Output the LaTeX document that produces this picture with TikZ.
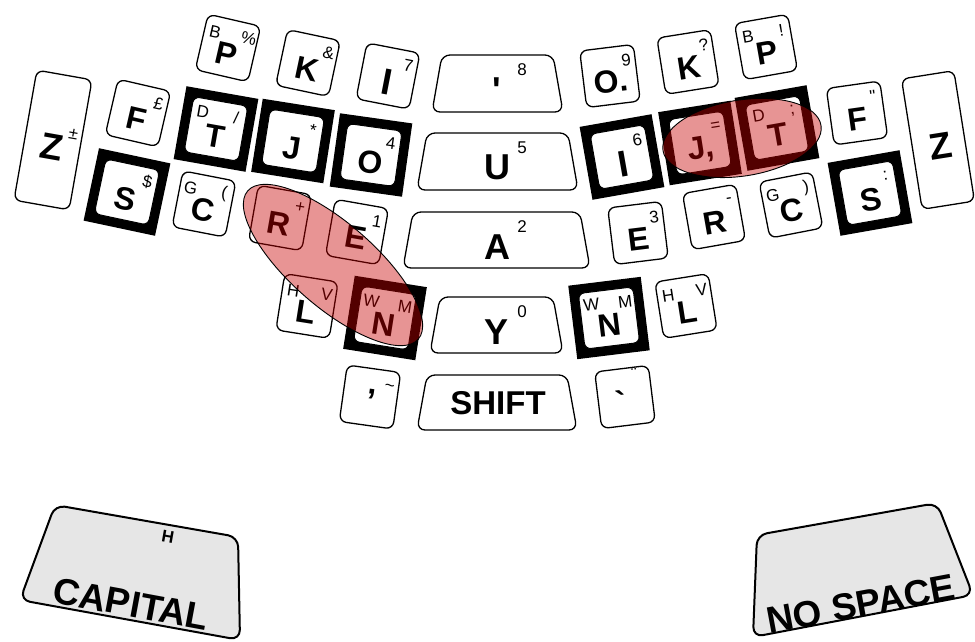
\documentclass[tikz,border=0pt]{standalone}
\usepackage{fontspec}
\setmainfont{Liberation Sans}
\newfontfamily\kf{Liberation Sans}
\usetikzlibrary{shapes.geometric}
\definecolor{hlred}{RGB}{200,0,0}
\definecolor{bigfill}{RGB}{230,230,230}
\newcommand\nkey[8][]{%
  \begin{scope}[shift={(#3,#4)},rotate=#5,transform shape]
    \node[keyn] (#2) at (0,0) {};
    \node[mainl,#1] (#2-a) at (0,6) {#6};
    \node[supl] (#2-b) at (18,-14) {#7};
    \node[supl] (#2-c) at (-16,-13) {#8};
  \end{scope}}
\newcommand\bkey[8][]{%
  \begin{scope}[shift={(#3,#4)},rotate=#5,transform shape]
    \node[keybo] (#2) at (0,0) {};
    \node[keybi] (#2-i) at (0,0) {};
    \node[mainl,#1] (#2-a) at (0,7) {#6};
    \node[supl] (#2-b) at (18,-14) {#7};
    \node[supl] (#2-c) at (-16,-15) {#8};
  \end{scope}}
% middle trapezoid key: name, cx, cy, bottom width, height
\newcommand\midk[5]{%
  \coordinate (#1) at (#2,#3);
  \draw[midkey] ({#2-#4/2},{#3+#5/2}) -- ({#2+#4/2},{#3+#5/2})
     -- ({#2+#4/2-10},{#3-#5/2}) -- ({#2-#4/2+10},{#3-#5/2}) -- cycle;}
\begin{document}
\begin{tikzpicture}[x=1pt,y=-1pt,
  keyn/.style={draw, line width=1.3pt, rounded corners=7pt, fill=white, minimum width=54pt, minimum height=57pt, inner sep=0pt},
  keytall/.style={keyn, minimum width=56pt, minimum height=132pt},
  keybo/.style={fill=black, minimum width=73pt, minimum height=74pt, inner sep=0pt},
  keybi/.style={draw, line width=1pt, fill=white, rounded corners=6pt, minimum width=55pt, minimum height=56pt, inner sep=0pt},
  mainl/.style={font=\kf\bfseries\fontsize{32}{32}\selectfont, inner sep=0pt},
  bigl/.style={font=\kf\bfseries\fontsize{37}{37}\selectfont},
  midl/.style={font=\kf\bfseries\fontsize{36}{36}\selectfont, inner sep=0pt},
  supl/.style={font=\kf\fontsize{17}{17}\selectfont, inner sep=0pt},
  midkey/.style={draw, line width=1.3pt, rounded corners=8pt, fill=white},
  bigkey/.style={draw, line width=2pt, rounded corners=10pt, fill=bigfill},
  bigtxt/.style={font=\kf\bfseries\fontsize{37}{37}\selectfont, inner sep=0pt},
  hl/.style={ellipse, draw=black, line width=0.9pt, fill=hlred, fill opacity=0.42, inner sep=0pt},
]
\useasboundingbox (0,0) rectangle (975,642);

% ---- left half ----
\begin{scope}[shift={(53,140)},rotate=-10,transform shape]
  \node[keytall] (zl) at (0,0) {};
  \node[mainl,bigl] (zl-a) at (0,7) {Z};
  \node[supl] (zl-b) at (19,-9) {±};
\end{scope}
\nkey{pl}{228}{48}{-13}{P}{\%}{B}
\nkey{kl}{308}{63}{-12}{K}{\&}{}
\nkey[bigl]{il}{388}{76}{-11}{I}{7}{}
\nkey{fl}{138}{113}{-13}{F}{£}{}
\bkey{tl}{216}{129}{-10}{T}{/}{D}
\bkey{jl}{293}{141}{-9}{J}{*}{}
\bkey{ol}{371}{155}{-8}{O}{4}{}
\bkey{sl}{127}{192}{-12}{S}{\$}{}
\nkey{cl}{204}{204}{-11}{C}{(}{G}
\nkey{rl}{280}{218}{-10}{R}{+}{}
\nkey{el}{357}{232}{-10}{E}{1}{}
\nkey{ll}{307}{306}{-9}{L}{V}{H}
\bkey{nl}{385}{318}{-9}{N}{M}{W}
\begin{scope}[shift={(370,397)},rotate=-8,transform shape]
  \node[keyn] (cm) at (0,0) {};
  \node[mainl] (cm-a) at (1,-3) {,};
  \node[supl] (cm-b) at (18,-12) {\textasciitilde};
\end{scope}

% ---- right half ----
\nkey{ok}{610}{76}{7}{O.}{9}{}
\nkey{kr}{688}{62}{9}{K}{?}{}
\nkey{pr}{766}{47}{10}{P}{!}{B}
\nkey{fr}{857}{113}{8}{F}{"}{}
\begin{scope}[shift={(938,140)},rotate=9,transform shape]
  \node[keytall, minimum width=53pt] (zr) at (0,0) {};
  \node[mainl,bigl] (zr-a) at (2,7) {Z};
\end{scope}
\bkey[bigl]{ir}{622}{157}{10}{I}{6}{}
\bkey{jr}{700}{143}{9}{J,}{=}{}
\bkey{tr}{777}{128}{10}{T}{;}{D}
\bkey{sr}{870}{193}{10}{S}{:}{}
\nkey{er}{638}{233}{7}{E}{3}{}
\nkey{rr}{714}{217}{10}{R}{-}{}
\nkey{cr}{791}{205}{11}{C}{)}{G}
\bkey{nr}{609}{318}{7}{N}{M}{W}
\nkey{lr}{686}{306}{9}{L}{V}{H}
\begin{scope}[shift={(625,397)},rotate=7,transform shape]
  \node[keyn] (gr) at (0,0) {};
  \node[mainl] (gr-a) at (-4,5) {`};
  \node[supl] (gr-b) at (12,-21) {¨};
\end{scope}

% ---- middle column ----
\midk{kap}{497.5}{83.5}{131}{57}
\node[midl] (kap-a) at (497,90) {'};
\node[supl] (kap-b) at (522,70) {8};
\midk{ku}{497.5}{161.5}{161}{57}
\node[midl] (ku-a) at (497,167) {U};
\node[supl] (ku-b) at (522,148) {5};
\midk{ka}{496.5}{240}{187}{56}
\node[midl] (ka-a) at (497,247) {A};
\node[supl] (ka-b) at (522,227) {2};
\midk{ky}{496.5}{325}{133}{56}
\node[midl] (ky-a) at (497,332) {Y};
\node[supl] (ky-b) at (522,312) {0};
\midk{ks}{497}{402.5}{160}{55}
\node[midl, font=\kf\bfseries\fontsize{33}{33}\selectfont] (ks-a) at (498,403) {SHIFT};

% ---- highlights ----
\node[hl, minimum width=226pt, minimum height=84pt, rotate=-41] (hl1) at (333,265) {};
\node[hl, minimum width=160pt, minimum height=76pt, rotate=9] (hl2) at (742,138) {};

% ---- thumb keys ----
\draw[bigkey] (55,505) -- (238,537) -- (240,640) -- (20,600) -- cycle;
\node[bigtxt, font=\kf\bfseries\fontsize{17}{17}\selectfont, rotate=-10] (caph) at (168,537) {H};
\node[bigtxt, rotate=-10.5] (capt) at (131,604) {CAPITAL};
\draw[bigkey] (757,535) -- (937,503) -- (973,595) -- (753,637) -- cycle;
\node[bigtxt, rotate=10.5] (nosp) at (861,604) {NO SPACE};
\end{tikzpicture}
\end{document}
